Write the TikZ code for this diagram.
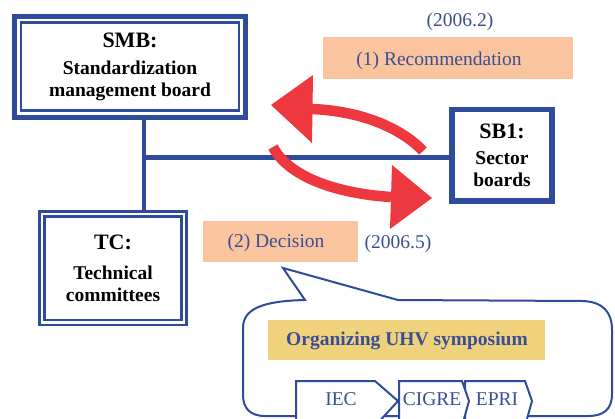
\documentclass[tikz,border=0pt]{standalone}
\usepackage{fontspec}
\setmainfont{Liberation Serif}
\definecolor{lineblue}{RGB}{46,76,155}
\definecolor{txtblue}{RGB}{58,78,150}
\definecolor{arrred}{RGB}{237,56,64}
\definecolor{peach}{RGB}{250,196,158}
\definecolor{ylw}{RGB}{240,210,125}
\begin{document}
\begin{tikzpicture}[x=1pt,y=-1pt,
  orgbox/.style={draw=lineblue, outer sep=0pt, inner sep=0pt, align=center,
     font=\fontsize{19.5}{21.5}\selectfont\bfseries},
  tag/.style={fill=peach, inner sep=0pt, outer sep=0pt},
  bluetxt/.style={text=txtblue, font=\fontsize{19.5}{21}\selectfont, inner sep=0pt},
  conn/.style={lineblue, line width=4.5pt},
  redshaft/.style={arrred, line width=10.5pt},
  chev/.style={draw=lineblue, line width=2pt, fill=white}
]
\useasboundingbox (0,0) rectangle (615,418);
\clip (0,0) rectangle (615,418);
\fill[white] (0,0) rectangle (615,418);

% structure boxes
\node[orgbox, line width=5pt, minimum width=231pt, minimum height=101pt] (smb) at (130,66.5)
  {{\fontsize{22}{22}\selectfont SMB:}\\[6pt]Standardization\\management board};
\draw[lineblue, line width=2.5pt] ([shift={(6.5,6.5)}]smb.north west) rectangle ([shift={(-6.5,-6.5)}]smb.south east);

\node[orgbox, line width=5.5pt, minimum width=100pt, minimum height=91.5pt] (sb1) at (502,155.25)
  {{\fontsize{22}{22}\selectfont SB1:}\\[5pt]Sector\\boards};

\node[orgbox, line width=2.5pt, minimum width=147pt, minimum height=113.5pt] (tc) at (113,268.25)
  {{\fontsize{22}{22}\selectfont TC:}\\[9pt]Technical\\committees};
\draw[lineblue, line width=2.5pt] ([shift={(5,5)}]tc.north west) rectangle ([shift={(-5,-5)}]tc.south east);

% connectors
\coordinate (j) at (144,157.5);
\draw[conn] (j |- smb.south) -- (j |- tc.north);
\draw[conn] (j) -- (j -| sb1.west);

% tags
\node[tag, minimum width=250pt, minimum height=42pt] (rec) at (448,58) {};
\node[bluetxt] (rectxt) at (439,60.5) {(1) Recommendation};
\node[bluetxt] (d1) at (460,22) {(2006.2)};
\node[tag, minimum width=155pt, minimum height=41pt] (dec) at (280.5,241.5) {};
\node[bluetxt] (dectxt) at (276,243) {(2) Decision};
\node[bluetxt] (d2) at (398,243.5) {(2006.5)};

% red arrows
\coordinate (r1s) at (423,151);
\coordinate (r1e) at (312,109);
\draw[redshaft] (r1s) .. controls (400,127) and (360,111) .. (r1e);
\fill[arrred] (271,105) -- (313,75) -- (312,143) -- cycle;
\coordinate (r2s) at (273,147);
\coordinate (r2e) at (391,197);
\draw[redshaft] (r2s) .. controls (287,174) and (330,193) .. (r2e);
\fill[arrred] (432,198) -- (392,165) -- (390,229) -- cycle;

% callout
\draw[lineblue, line width=2pt] (283,268) -- (398,300) -- (583,301)
  .. controls (603,302) and (612,312) .. (612,330) -- (612,394)
  .. controls (612,410) and (603,416) .. (588,416) -- (265,416)
  .. controls (250,416) and (243,408) .. (243,395) -- (243,328)
  .. controls (243,309) and (262,301) .. (305,300) -- cycle;

\node[fill=ylw, minimum width=277pt, minimum height=40pt, inner sep=0pt] (uhv) at (406.5,340) {};
\node[text=txtblue, font=\fontsize{19.5}{21}\selectfont\bfseries, inner sep=0pt] (uhvtxt) at (407,341) {Organizing UHV symposium};

% chevrons
\draw[chev] (465,381) -- (525,381) -- (532,401) -- (525,426) -- (465,426) -- cycle;
\draw[chev] (399,381) -- (462,381) -- (469,401) -- (462,426) -- (399,426) -- cycle;
\draw[chev] (296,381) -- (375,381) -- (398,401) -- (375,426) -- (296,426) -- cycle;
\node[bluetxt, anchor=base] (iec) at (341,405) {IEC};
\node[bluetxt, anchor=base] (cigre) at (432,405) {CIGRE};
\node[bluetxt, anchor=base] (epri) at (497,405) {EPRI};
\end{tikzpicture}
\end{document}
